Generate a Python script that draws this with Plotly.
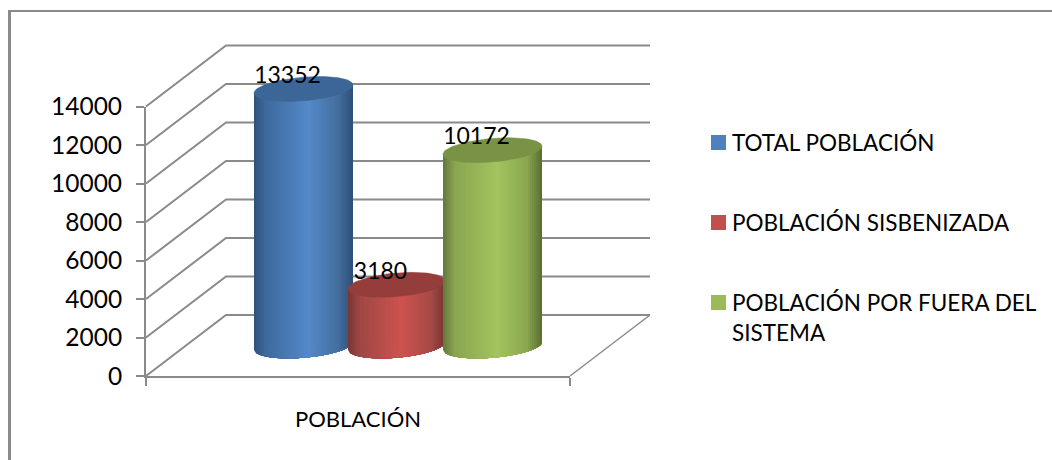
import numpy as np
import plotly.graph_objects as go

# ---- data ----
category = ["POBLACIÓN"]
series_names = ["TOTAL POBLACIÓN", "POBLACIÓN SISBENIZADA", "POBLACIÓN POR FUERA DEL<br>SISTEMA"]
series_values = [13352, 3180, 10172]
tick_values = [0, 2000, 4000, 6000, 8000, 10000, 12000, 14000]

# ---- styling / geometry (figure is laid out on a 1052x460 pixel canvas) ----
W, H = 1052, 460
FONT = "Lato"
GREY = "#8A8A8A"
LEGEND_COL = ["#4F81BD", "#C0504D", "#9BBB59"]
TOP_COL = ["#3C6697", "#943D3A", "#7A9245"]
SHADES = [
    [(0.0, "#2F5279"), (0.12, "#3F6A9E"), (0.55, "#5589C9"), (0.85, "#446F9F"), (1.0, "#2F4F75")],
    [(0.0, "#783735"), (0.12, "#A04745"), (0.55, "#CD5350"), (0.85, "#A84A47"), (1.0, "#763533")],
    [(0.0, "#64793A"), (0.12, "#8AA650"), (0.55, "#A3C45E"), (0.85, "#8AA650"), (1.0, "#5A6E33")],
]
X_FRONT0, X_FRONT1 = 146, 570
Y_ZERO_PX, Y_TOP_PX = 376, 106.5
DEPTH_X, DEPTH_Y_PX = 80, 61
X_BACK1 = X_FRONT1 + DEPTH_X
UNIT = tick_values[-1] / (Y_ZERO_PX - Y_TOP_PX)   # value units per pixel
DEPTH_V = DEPTH_Y_PX * UNIT
BASE_V = 30 * UNIT
CX = [303.5, 396.5, 492.5]
A = [49.5, 48.5, 49.5]
TILT = 4 * UNIT
SEMI = 11.8 * UNIT
SWATCH_X = 718.5
SWATCH_Y_PX = [142.5, 222.5, 302.5]


def hex2rgb(h):
    return np.array([int(h[i:i + 2], 16) for i in (1, 3, 5)], float)


def shade(stops, f):
    pos = [s[0] for s in stops]
    cols = np.array([hex2rgb(s[1]) for s in stops])
    c = [np.interp(f, pos, cols[:, k]) for k in range(3)]
    return "rgb(%d,%d,%d)" % tuple(c)


fig = go.Figure()

# back wall and side wall grid lines
for v in tick_values:
    fig.add_trace(go.Scatter(
        x=[X_FRONT0, X_FRONT0 + DEPTH_X, X_BACK1],
        y=[v, v + DEPTH_V, v + DEPTH_V],
        mode="lines", line=dict(color=GREY, width=2),
        showlegend=False, hoverinfo="skip"))
# floor edge
fig.add_trace(go.Scatter(
    x=[X_BACK1, X_FRONT1], y=[DEPTH_V, 0], mode="lines",
    line=dict(color=GREY, width=1.5), showlegend=False, hoverinfo="skip"))


def lower_edge(cx, a, v0, x):
    c = np.clip((x - cx) / a, -1, 1)
    return v0 + TILT * c - SEMI * np.sqrt(1 - c ** 2)


# cylinders: each strip runs to the right edge and the next one paints over it
N = 50
for i, val in enumerate(series_values):
    cx, a = CX[i], A[i]
    edges = np.linspace(cx - a, cx + a, N + 1)
    for j in range(N):
        xs = np.linspace(edges[j], cx + a, max(2, (N - j) * 2))
        low = lower_edge(cx, a, BASE_V, xs)
        up = BASE_V + val + TILT * (xs - cx) / a
        col = shade(SHADES[i], (j + 0.5) / N)
        fig.add_trace(go.Scatter(
            x=np.r_[xs, xs[::-1]], y=np.r_[low, up[::-1]],
            mode="lines", fill="toself", fillcolor=col,
            line=dict(width=0),
            showlegend=False, hoverinfo="skip"))
    t = np.linspace(0, 2 * np.pi, 90)
    fig.add_trace(go.Scatter(
        x=cx + a * np.cos(t),
        y=BASE_V + val + TILT * np.cos(t) + SEMI * np.sin(t),
        mode="lines", fill="toself", fillcolor=TOP_COL[i],
        line=dict(color=TOP_COL[i], width=0.5),
        showlegend=False, hoverinfo="skip"))

# data labels
fig.add_trace(go.Scatter(
    x=[CX[i] - 16 for i in range(3)],
    y=[BASE_V + v + 12 * UNIT for v in series_values],
    text=[str(v) for v in series_values],
    mode="text", textposition="middle center",
    textfont=dict(family=FONT, size=23, color="#000000"),
    showlegend=False, hoverinfo="skip"))

# legend entries (text from the legend; swatches sit closer to the text than
# plotly's legend allows, so they are drawn next to it)
for i, name in enumerate(series_names):
    fig.add_trace(go.Scatter(
        x=[None], y=[None], name=name, legendgroup=name, mode="markers",
        marker=dict(symbol="square", size=15, color="rgba(0,0,0,0)")))
    fig.add_trace(go.Scatter(
        x=[SWATCH_X], y=[(Y_ZERO_PX - SWATCH_Y_PX[i]) * UNIT], mode="markers",
        marker=dict(symbol="square", size=15, color=LEGEND_COL[i]),
        showlegend=False, hoverinfo="skip"))

# front plane subplot: carries the real value axis and category axis
fig.add_trace(go.Scatter(x=[None], y=[None], xaxis="x2", yaxis="y2",
                         showlegend=False, hoverinfo="skip"))

fig.update_layout(
    width=W, height=H,
    margin=dict(l=0, r=0, t=0, b=0, autoexpand=False),
    paper_bgcolor="#FFFFFF", plot_bgcolor="rgba(0,0,0,0)",
    font=dict(family=FONT, color="#000000"),
    xaxis=dict(domain=[0, 1], range=[0, W], visible=False),
    yaxis=dict(domain=[0, 1],
               range=[(Y_ZERO_PX - H) * UNIT, Y_ZERO_PX * UNIT], visible=False),
    xaxis2=dict(domain=[X_FRONT0 / W, X_FRONT1 / W], range=[X_FRONT0, X_FRONT1],
                anchor="y2", showline=True, linecolor=GREY, linewidth=2,
                ticks="outside", ticklen=8, tickwidth=2, tickcolor=GREY,
                tickvals=[X_FRONT0, X_FRONT1], ticktext=["", ""],
                showgrid=False, zeroline=False,
                title=dict(text=category[0], standoff=24,
                           font=dict(family=FONT, size=22, color="#000000"))),
    yaxis2=dict(domain=[(H - Y_ZERO_PX) / H, (H - Y_TOP_PX) / H],
                range=[tick_values[0], tick_values[-1]],
                anchor="x2", showline=True, linecolor=GREY, linewidth=2,
                ticks="outside", ticklen=8, tickwidth=2, tickcolor=GREY,
                tickvals=tick_values, tickformat="d", ticklabelstandoff=9,
                tickfont=dict(family=FONT, size=24.5, color="#000000"),
                showgrid=False, zeroline=False),
    legend=dict(x=692 / W, y=1 - 121 / H, xanchor="left", yanchor="top",
                traceorder="grouped", tracegroupgap=48, valign="top",
                bgcolor="rgba(0,0,0,0)",
                font=dict(family=FONT, size=22.5, color="#000000")),
    shapes=[
        dict(type="line", xref="paper", yref="paper", x0=9.5 / W, x1=9.5 / W,
             y0=0, y1=1 - 10 / H, line=dict(color=GREY, width=3)),
        dict(type="line", xref="paper", yref="paper", x0=8 / W, x1=1,
             y0=1 - 11 / H, y1=1 - 11 / H, line=dict(color=GREY, width=2)),
    ],
)

fig.write_html("out.html", config={"displayModeBar": False},
               post_script="document.body.style.margin='0';")
